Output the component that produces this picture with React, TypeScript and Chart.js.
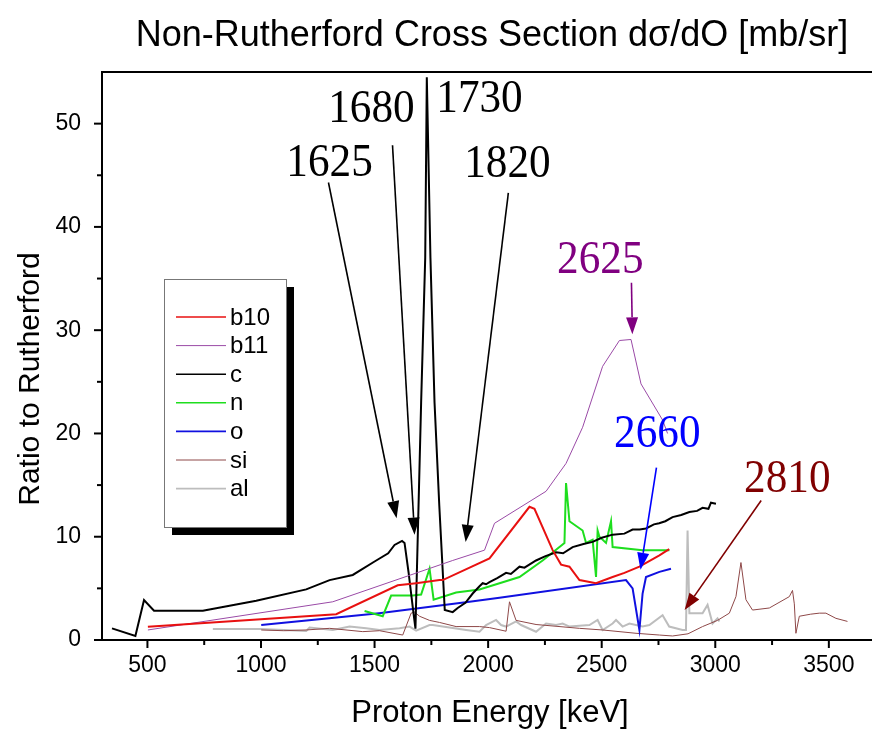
import React, { useEffect, useRef } from "react";
import { Chart, registerables } from "chart.js";

Chart.register(...registerables);

// ---------- data (energy in keV, ratio to Rutherford) ----------
const b10E = [502, 1331, 1602, 1683, 1786, 1800, 2006, 2182, 2204, 2284, 2321, 2358, 2402, 2475, 2548, 2600, 2666, 2754, 2797];
const b10V = [1.29, 2.5, 5.3, 5.5, 5.8, 5.8, 7.9, 12.9, 12.7, 8.7, 7.3, 7.1, 5.8, 5.5, 6.1, 6.5, 7.1, 8.2, 8.8];

const b11E = [502, 1316, 1844, 1984, 2028, 2255, 2343, 2416, 2504, 2578, 2629, 2673, 2768, 2790];
const b11V = [0.97, 3.7, 7.7, 8.7, 11.3, 14.4, 17.1, 20.6, 26.5, 29.0, 29.1, 24.8, 21.3, 20.0];

const cE = [344, 447, 485, 529, 744, 979, 1199, 1302, 1404, 1500, 1560, 1588, 1621, 1632, 1650, 1668, 1680, 1705, 1723, 1730, 1746, 1764, 1785, 1809, 1844, 1866, 1900, 1932, 1962, 1976, 1991, 2006, 2040, 2079, 2100, 2138, 2160, 2211, 2250, 2299, 2330, 2372, 2420, 2460, 2500, 2548, 2600, 2636, 2667, 2695, 2730, 2753, 2780, 2812, 2850, 2886, 2920, 2944, 2970, 2981, 3003];
const cV = [1.13, 0.39, 3.87, 2.84, 2.84, 3.8, 4.9, 5.8, 6.3, 7.6, 8.4, 9.2, 9.6, 9.4, 6.5, 3.2, 1.1, 23, 37, 54.5, 37, 23, 13, 2.9, 2.7, 3.1, 3.6, 4.5, 5.2, 5.5, 5.4, 5.6, 6.0, 6.5, 6.4, 7.1, 7.0, 7.7, 8.1, 8.5, 8.4, 9.0, 9.3, 9.5, 9.9, 10.2, 10.3, 10.7, 10.7, 10.8, 11.2, 11.3, 11.5, 11.9, 12.1, 12.4, 12.5, 12.8, 12.7, 13.3, 13.2];

const nE = [1456, 1536, 1573, 1668, 1705, 1742, 1760, 1859, 1962, 2138, 2240, 2336, 2343, 2358, 2416, 2431, 2460, 2475, 2482, 2490, 2519, 2541, 2548, 2680, 2798];
const nV = [2.8, 2.3, 4.3, 4.3, 4.4, 6.9, 3.9, 4.6, 4.9, 6.1, 7.7, 9.4, 15.2, 11.5, 10.6, 9.4, 9.7, 6.1, 10.6, 10.0, 9.4, 11.5, 9.0, 8.7, 8.7];

const oE = [1001, 1300, 1520, 1918, 2050, 2607, 2636, 2666, 2680, 2695, 2754, 2805];
const oV = [1.45, 2.1, 2.6, 3.7, 4.1, 5.8, 5.0, 0.97, 4.5, 6.1, 6.6, 6.9];

const siE = [1001, 1100, 1199, 1302, 1448, 1522, 1624, 1661, 1676, 1698, 1742, 1786, 1859, 1962, 2006, 2079, 2094, 2123, 2211, 2402, 2504, 2651, 2754, 2812, 2880, 2944, 3010, 3062, 3091, 3113, 3135, 3164, 3238, 3326, 3340, 3348, 3355, 3370, 3420, 3458, 3487, 3531, 3582];
const siV = [0.97, 0.9, 0.97, 1.13, 0.81, 0.9, 0.48, 2.6, 2.7, 2.3, 1.9, 1.7, 1.3, 1.3, 1.2, 0.85, 3.7, 1.9, 1.5, 1.13, 0.97, 0.65, 0.48, 0.39, 0.6, 1.3, 1.9, 2.6, 4.2, 7.5, 3.9, 2.9, 3.1, 4.2, 4.8, 3.5, 0.65, 2.3, 2.5, 2.6, 2.6, 2.1, 1.8];

const alE = [788, 1001, 1199, 1214, 1316, 1390, 1463, 1522, 1610, 1654, 1683, 1742, 1756, 1903, 1962, 1991, 2035, 2057, 2079, 2123, 2145, 2211, 2255, 2299, 2328, 2358, 2446, 2482, 2504, 2548, 2563, 2592, 2622, 2680, 2710, 2768, 2797, 2856, 2871, 2878, 2886, 2944, 2966, 2988, 3010, 3018];
const alV = [1.06, 1.06, 0.87, 1.2, 0.97, 1.3, 1.13, 0.97, 1.13, 1.3, 0.9, 1.45, 1.45, 0.97, 0.8, 1.45, 1.94, 1.45, 1.3, 1.8, 1.45, 0.8, 1.6, 1.45, 1.6, 1.3, 1.45, 1.94, 0.97, 1.6, 1.94, 1.3, 1.6, 1.3, 1.45, 2.4, 1.3, 0.97, 0.97, 10.6, 2.6, 2.6, 3.4, 1.6, 2.1, 1.8];

const seriesNames = ["b10", "b11", "c", "n", "o", "si", "al"];
const seriesColors = ["#e81010", "#9a4aa6", "#000000", "#1ede1e", "#1010e0", "#8e4848", "#bdbdbd"];
const seriesWidths = [2, 1, 2, 2, 2, 1, 2];

const xTicks = [500, 1000, 1500, 2000, 2500, 3000, 3500];
const yTicks = [0, 10, 20, 30, 40, 50];

// annotation labels: text, colour, label position (keV, ratio), arrow start, arrow end
const annoText = ["1625", "1680", "1730", "1820", "2625", "2660", "2810"];
const annoColor = ["#000000", "#000000", "#000000", "#000000", "#800080", "#0000ff", "#800000"];
const annoPos: [number, number][] = [[1302, 46.3], [1486, 51.5], [1962, 52.5], [2085, 46.2], [2494, 36.9], [2745, 20.1], [3317, 15.7]];
const arrowFrom: ([number, number] | null)[] = [[1297, 44.3], [1579, 47.9], null, [2089, 43.3], [2631, 34.6], [2741, 16.7], [3202, 13.5]];
const arrowTo: ([number, number] | null)[] = [[1597, 11.8], [1676, 10.2], null, [1901, 9.5], [2635, 29.6], [2671, 6.8], [2865, 2.9]];

const TITLE = "Non-Rutherford Cross Section d\u03c3/dO [mb/sr]";
const XTITLE = "Proton Energy [keV]";
const YTITLE = "Ratio to Rutherford";

const SANS = '"Liberation Sans", Arial, sans-serif';
const SERIF = '"Liberation Serif", "Times New Roman", serif';

const seriesE = [b10E, b11E, cE, nE, oE, siE, alE];
const seriesV = [b10V, b11V, cV, nV, oV, siV, alV];

const decorPlugin = {
  id: "decor",
  afterDatasetsDraw(chart: any) {
    const { ctx, chartArea: ca, scales } = chart;
    const xs = scales.x;
    const ys = scales.y;
    ctx.save();
    // axes frame
    ctx.strokeStyle = "#000";
    ctx.lineWidth = 2;
    ctx.beginPath();
    ctx.moveTo(ca.right, ca.top);
    ctx.lineTo(ca.left, ca.top);
    ctx.lineTo(ca.left, ca.bottom);
    ctx.lineTo(ca.right, ca.bottom);
    ctx.stroke();
    // x ticks
    ctx.lineWidth = 2;
    for (let i = 0; i < xTicks.length; i++) {
      const px = xs.getPixelForValue(xTicks[i]);
      ctx.beginPath();
      ctx.moveTo(px, ca.bottom);
      ctx.lineTo(px, ca.bottom + 8);
      ctx.stroke();
      const mv = xTicks[i] + (xTicks[1] - xTicks[0]) / 2;
      if (mv < xs.max) {
        const mx = xs.getPixelForValue(mv);
        ctx.beginPath();
        ctx.moveTo(mx, ca.bottom);
        ctx.lineTo(mx, ca.bottom + 5);
        ctx.stroke();
      }
    }
    for (let i = 0; i < yTicks.length; i++) {
      const py = ys.getPixelForValue(yTicks[i]);
      ctx.beginPath();
      ctx.moveTo(ca.left, py);
      ctx.lineTo(ca.left - 8, py);
      ctx.stroke();
      const mv = yTicks[i] + (yTicks[1] - yTicks[0]) / 2;
      if (mv < ys.max) {
        const my = ys.getPixelForValue(mv);
        ctx.beginPath();
        ctx.moveTo(ca.left, my);
        ctx.lineTo(ca.left - 5, my);
        ctx.stroke();
      }
    }

    // titles
    ctx.fillStyle = "#000";
    ctx.textAlign = "center";
    ctx.textBaseline = "middle";
    ctx.font = `36px ${SANS}`;
    ctx.fillText(TITLE, ca.left + 390, 36);
    ctx.font = `31px ${SANS}`;
    ctx.fillText(XTITLE, ca.left + 388, ca.bottom + 73);
    ctx.save();
    ctx.font = `30px ${SANS}`;
    ctx.translate(31, (ca.top + ca.bottom) / 2 + 23);
    ctx.rotate(-Math.PI / 2);
    ctx.fillText(YTITLE, 0, 0);
    ctx.restore();

    // legend
    const lx = ca.left + 62;
    const ly = ca.top + 207;
    const lw = 122;
    const lh = 248;
    ctx.fillStyle = "#000";
    ctx.fillRect(lx + 8, ly + 8, lw, lh);
    ctx.fillStyle = "#fff";
    ctx.fillRect(lx, ly, lw, lh);
    ctx.strokeStyle = "#777";
    ctx.lineWidth = 1;
    ctx.strokeRect(lx + 0.5, ly + 0.5, lw, lh);
    ctx.font = `24px ${SANS}`;
    ctx.textAlign = "left";
    for (let i = 0; i < seriesNames.length; i++) {
      const ry = ly + 38 + i * 28.6;
      ctx.strokeStyle = seriesColors[i];
      ctx.lineWidth = seriesWidths[i] === 1 ? 1 : 1.6;
      ctx.beginPath();
      ctx.moveTo(lx + 12, ry);
      ctx.lineTo(lx + 62, ry);
      ctx.stroke();
      ctx.fillStyle = "#000";
      ctx.fillText(seriesNames[i], lx + 66, ry + 1);
    }

    // annotations
    for (let i = 0; i < annoText.length; i++) {
      const tx = xs.getPixelForValue(annoPos[i][0]);
      const ty = ys.getPixelForValue(annoPos[i][1]);
      ctx.save();
      ctx.fillStyle = annoColor[i];
      ctx.textAlign = "center";
      ctx.textBaseline = "middle";
      ctx.translate(tx, ty);
      ctx.scale(0.92, 1);
      ctx.font = `47px ${SERIF}`;
      ctx.fillText(annoText[i], 0, 2);
      ctx.restore();
      const f = arrowFrom[i];
      const t = arrowTo[i];
      if (f && t) {
        const x1 = xs.getPixelForValue(f[0]);
        const y1 = ys.getPixelForValue(f[1]);
        const x2 = xs.getPixelForValue(t[0]);
        const y2 = ys.getPixelForValue(t[1]);
        const ang = Math.atan2(y2 - y1, x2 - x1);
        const hl = 17;
        const hw = 6;
        const bx = x2 - hl * Math.cos(ang);
        const by = y2 - hl * Math.sin(ang);
        ctx.strokeStyle = annoColor[i];
        ctx.fillStyle = annoColor[i];
        ctx.lineWidth = 1.6;
        ctx.beginPath();
        ctx.moveTo(x1, y1);
        ctx.lineTo(bx, by);
        ctx.stroke();
        ctx.beginPath();
        ctx.moveTo(x2, y2);
        ctx.lineTo(bx + hw * Math.sin(ang), by - hw * Math.cos(ang));
        ctx.lineTo(bx - hw * Math.sin(ang), by + hw * Math.cos(ang));
        ctx.closePath();
        ctx.fill();
      }
    }
    ctx.restore();
  },
};

export default function App() {
  const ref = useRef<HTMLCanvasElement>(null);
  useEffect(() => {
    document.body.style.margin = "0";
    const datasets = seriesNames.map((name, i) => ({
      label: name,
      data: seriesE[i].map((e, j) => ({ x: e, y: seriesV[i][j] })),
      borderColor: seriesColors[i],
      backgroundColor: seriesColors[i],
      borderWidth: seriesWidths[i],
      pointRadius: 0,
      tension: 0,
      fill: false,
    }));
    const chart = new Chart(ref.current as HTMLCanvasElement, {
      type: "line",
      data: { datasets },
      options: {
        animation: false,
        responsive: false,
        devicePixelRatio: 1,
        layout: { padding: { top: 72, left: 0, right: 0, bottom: 0 } },
        plugins: { legend: { display: false }, title: { display: false }, tooltip: { enabled: false } },
        scales: {
          x: {
            type: "linear",
            min: 300,
            max: 3690,
            afterBuildTicks: (s: any) => {
              s.ticks = xTicks.map((v) => ({ value: v }));
            },
            afterFit: (s: any) => {
              s.height = 93;
            },
            grid: { display: false, drawTicks: false },
            border: { display: false },
            ticks: { color: "#000", font: { family: SANS, size: 23 }, padding: 12, maxRotation: 0, autoSkip: false, callback: (v: any) => String(v) },
          },
          y: {
            type: "linear",
            min: 0,
            max: 55,
            afterBuildTicks: (s: any) => {
              s.ticks = yTicks.map((v) => ({ value: v }));
            },
            afterFit: (s: any) => {
              s.width = 102;
            },
            grid: { display: false, drawTicks: false },
            border: { display: false },
            ticks: { color: "#000", font: { family: SANS, size: 23 }, padding: 21, callback: (v: any) => String(v) },
          },
        },
      },
      plugins: [decorPlugin],
    });
    return () => chart.destroy();
  }, []);
  return (
    <div style={{ width: 872, height: 733 }}>
      <canvas ref={ref} width={872} height={733} />
    </div>
  );
}
